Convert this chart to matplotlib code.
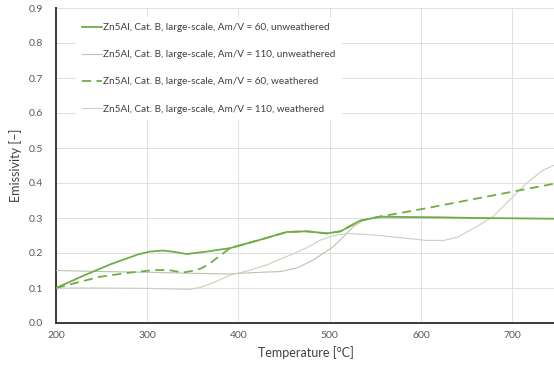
import matplotlib.pyplot as plt
import numpy as np

plt.rcParams['font.family'] = ['Lato', 'DejaVu Sans']

# Am/V = 60, unweathered
t_60u = [200, 230, 260, 290, 303, 317, 330, 343, 365, 391, 420, 453, 475, 497, 512, 533, 555, 580, 620, 660, 700, 750]
e_60u = [0.100, 0.135, 0.168, 0.196, 0.204, 0.207, 0.203, 0.197, 0.204, 0.214, 0.235, 0.260, 0.262, 0.256, 0.262, 0.292, 0.304, 0.303, 0.302, 0.300, 0.299, 0.298]

# Am/V = 110, unweathered
t_110u = [200, 250, 300, 350, 390, 416, 446, 465, 482, 504, 526, 537, 550, 600, 650, 700, 750]
e_110u = [0.150, 0.147, 0.145, 0.142, 0.140, 0.144, 0.147, 0.158, 0.180, 0.218, 0.275, 0.294, 0.300, 0.300, 0.300, 0.299, 0.298]

# Am/V = 60, weathered
t_60w = [200, 248, 281, 307, 322, 339, 350, 360, 369, 380, 391, 420, 453, 475, 497, 512, 533, 555, 600, 650, 700, 750]
e_60w = [0.100, 0.132, 0.144, 0.151, 0.152, 0.144, 0.149, 0.157, 0.171, 0.193, 0.214, 0.235, 0.260, 0.262, 0.256, 0.262, 0.292, 0.304, 0.325, 0.350, 0.375, 0.400]

# Am/V = 110, weathered
t_110w = [200, 250, 300, 330, 347, 360, 375, 391, 410, 430, 453, 475, 490, 505, 520, 555, 580, 606, 625, 640, 661, 679, 701, 716, 734, 750]
e_110w = [0.100, 0.100, 0.099, 0.097, 0.096, 0.103, 0.118, 0.137, 0.149, 0.165, 0.190, 0.215, 0.237, 0.250, 0.256, 0.250, 0.243, 0.236, 0.236, 0.245, 0.275, 0.304, 0.361, 0.400, 0.437, 0.455]

labels = [
    'Zn5Al, Cat. B, large-scale, Am/V = 60, unweathered',
    'Zn5Al, Cat. B, large-scale, Am/V = 110, unweathered',
    'Zn5Al, Cat. B, large-scale, Am/V = 60, weathered',
    'Zn5Al, Cat. B, large-scale, Am/V = 110, weathered',
]

fig = plt.figure(figsize=(5.54, 3.65), dpi=100)
ax = fig.add_axes([56 / 554, 42 / 365, 499 / 554, 315 / 365])

green = '#70ad47'
ax.plot(t_60u, e_60u, color=green, lw=1.3, label=labels[0], zorder=4)
ax.plot(t_110u, e_110u, color='#b7c6a9', lw=0.8, label=labels[1], zorder=3)
ax.plot(t_60w, e_60w, color=green, lw=1.3, ls=(0, (5, 3)), label=labels[2], zorder=5)
ax.plot(t_110w, e_110w, color='#c6d2bb', lw=0.8, label=labels[3], zorder=3)

ax.set_xlim(200, 747)
ax.set_ylim(0, 0.9)
ax.set_xticks(np.arange(200, 701, 100))
ax.set_yticks(np.arange(0, 0.91, 0.1))
ax.set_yticklabels([f'{v:.1f}' for v in np.arange(0, 0.91, 0.1)])
ax.grid(True, color='#e0e0e0', lw=0.7)
ax.set_axisbelow(True)

for s in ['top', 'right']:
    ax.spines[s].set_visible(False)
for s in ['left', 'bottom']:
    ax.spines[s].set_color('#3a3a3a')
    ax.spines[s].set_linewidth(1.4)

ax.tick_params(axis='y', length=0, labelsize=7.5, colors='#595959', pad=9)
ax.tick_params(axis='x', length=0, labelsize=7.5, colors='#595959', pad=6)
ax.set_xlabel('Temperature [°C]', fontsize=9, color='#404040', labelpad=4)
ax.set_ylabel('Emissivity [–]', fontsize=9, color='#404040', labelpad=5)

leg = ax.legend(loc='upper left', bbox_to_anchor=(0.03, 0.987), fontsize=7.2,
                labelspacing=1.82, handlelength=2.0, handletextpad=0.15,
                frameon=True, fancybox=False, borderpad=0.6)
leg.get_frame().set_facecolor('white')
leg.get_frame().set_edgecolor('none')
leg.get_frame().set_alpha(1)
for txt in leg.get_texts():
    txt.set_color('#404040')

plt.savefig('out.png', dpi=100)
